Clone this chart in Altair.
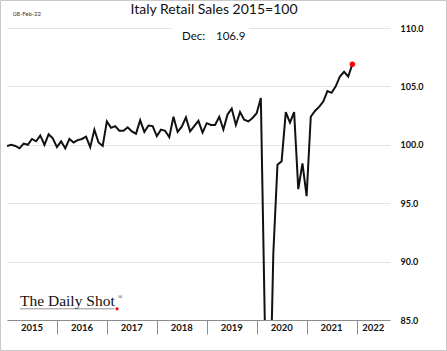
import altair as alt
import pandas as pd

# ---- data ----
start_year = 2015
values = [
    # 2015
    99.9, 100.0, 99.9, 99.7, 100.1, 100.0, 100.5, 100.3, 100.8, 100.0, 100.9, 100.55,
    # 2016
    99.8, 100.3, 99.7, 100.5, 100.2, 100.4, 100.5, 100.7, 99.8, 101.3, 100.2, 99.9,
    # 2017
    102.0, 101.45, 101.6, 101.2, 101.2, 101.5, 101.15, 100.95, 102.1, 101.1, 101.65, 101.6,
    # 2018
    100.75, 101.3, 101.2, 100.65, 102.4, 101.1, 101.55, 102.35, 101.15, 101.6, 102.05, 101.05,
    # 2019
    101.85, 101.7, 101.7, 102.4, 101.3, 102.6, 103.1, 101.7, 102.8, 102.15, 102.0, 102.3,
    # 2020
    102.7, 104.0, 84.0, 74.4, 90.7, 98.3, 98.6, 102.8, 101.9, 102.8, 96.2, 98.4,
    # 2021
    95.6, 102.4, 102.9, 103.25, 103.7, 104.6, 104.45, 105.0, 105.85, 106.25, 105.85, 106.9,
]
year_labels = [2015, 2016, 2017, 2018, 2019, 2020, 2021, 2022]
year_ticks = [2016, 2017, 2018, 2019, 2020, 2021, 2022]
y_ticks = [85, 90, 95, 100, 105, 110]
x_end = 2022.67
title_text = "Italy Retail Sales 2015=100"
last_label = "Dec:"
last_value_text = "106.9"
date_text = "08-Feb-22"
logo_text = "The Daily Shot"

W, H = 383, 292

df = pd.DataFrame({
    "t": [start_year + i / 12 for i in range(len(values))],
    "v": values,
})
centers = [min(y + 0.5, (y + x_end) / 2) for y in year_labels]
ydf = pd.DataFrame({"c": centers, "label": [str(y) for y in year_labels]})
one = pd.DataFrame({"a": [0]})

xscale = alt.Scale(domain=[2015, x_end], nice=False, zero=False)
yscale = alt.Scale(domain=[85, 110], nice=False, zero=False)

line = alt.Chart(df).mark_line(color="#111111", strokeWidth=2, clip=True).encode(
    x=alt.X("t:Q", scale=xscale, title=None,
            axis=alt.Axis(values=year_ticks, labels=False, grid=False, tickSize=14,
                          tickColor="#8c8c8c", domainColor="#8c8c8c", tickWidth=1,
                          domainWidth=1)),
    y=alt.Y("v:Q", scale=yscale, title=None,
            axis=alt.Axis(orient="right", values=y_ticks, format=".1f", grid=True,
                          gridColor="#e4e4e4", domain=False, ticks=False, labelPadding=10,
                          labelFontWeight="bold", labelFontSize=9, labelFont="Lato",
                          labelColor="#111111")),
)

dot = alt.Chart(df.tail(1)).mark_circle(color="#ff0000", size=30, opacity=1).encode(
    x=alt.X("t:Q", scale=xscale), y=alt.Y("v:Q", scale=yscale)
)

year_text = alt.Chart(ydf).mark_text(font="Lato", fontWeight="bold", fontSize=9.5,
                                     baseline="middle", color="#111111").encode(
    x=alt.X("c:Q", scale=xscale), y=alt.value(300), text="label:N"
)

white_box = alt.Chart(one).mark_rect(color="white").encode(
    x=alt.value(165), x2=alt.value(242), y=alt.value(-3), y2=alt.value(3)
)

title = alt.Chart(one).mark_text(text=title_text, font="Lato", fontSize=14,
                                 color="#111111", baseline="middle").encode(
    x=alt.value(207), y=alt.value(-18.5)
)
dec1 = alt.Chart(one).mark_text(text=last_label, font="Lato", fontSize=11.5, align="left",
                                color="#111111", baseline="middle").encode(
    x=alt.value(175), y=alt.value(9)
)
dec2 = alt.Chart(one).mark_text(text=last_value_text, font="Lato", fontSize=11.5, align="left",
                                color="#111111", baseline="middle").encode(
    x=alt.value(209), y=alt.value(9)
)
date_mark = alt.Chart(one).mark_text(text=date_text, font="Lato", fontSize=6, align="left",
                                     color="#333333", baseline="middle").encode(
    x=alt.value(6), y=alt.value(-14)
)
logo = alt.Chart(one).mark_text(text=logo_text, font="Liberation Serif", fontSize=15.5,
                                align="left", color="#111111",
                                baseline="alphabetic").encode(
    x=alt.value(13), y=alt.value(278)
)
logo_r = alt.Chart(one).mark_text(text="®", font="Liberation Serif", fontSize=6,
                                  align="left", color="#222222", baseline="middle").encode(
    x=alt.value(111), y=alt.value(269)
)
logo_rule = alt.Chart(one).mark_rule(color="#777777", strokeWidth=0.8).encode(
    x=alt.value(13), x2=alt.value(107), y=alt.value(280.8)
)
logo_dot = alt.Chart(one).mark_circle(color="#ff0000", size=10, opacity=1).encode(
    x=alt.value(110), y=alt.value(280.8)
)
border = alt.Chart(one).mark_rect(fillOpacity=0, stroke="#c8c8c8", strokeWidth=1).encode(
    x=alt.value(-6.5), x2=alt.value(439.5), y=alt.value(-27.5), y2=alt.value(322.5)
)

chart = alt.layer(
    line, white_box, dot, year_text, title, dec1, dec2, date_mark,
    logo, logo_r, logo_rule, logo_dot, border
).properties(
    width=W, height=H,
    autosize=alt.AutoSizeParams(type="none"),
    padding={"left": 7, "top": 28, "right": 57, "bottom": 31},
    background="white",
).configure_view(stroke=None)

chart.save("out.html", embed_options={"renderer": "svg", "actions": False})
